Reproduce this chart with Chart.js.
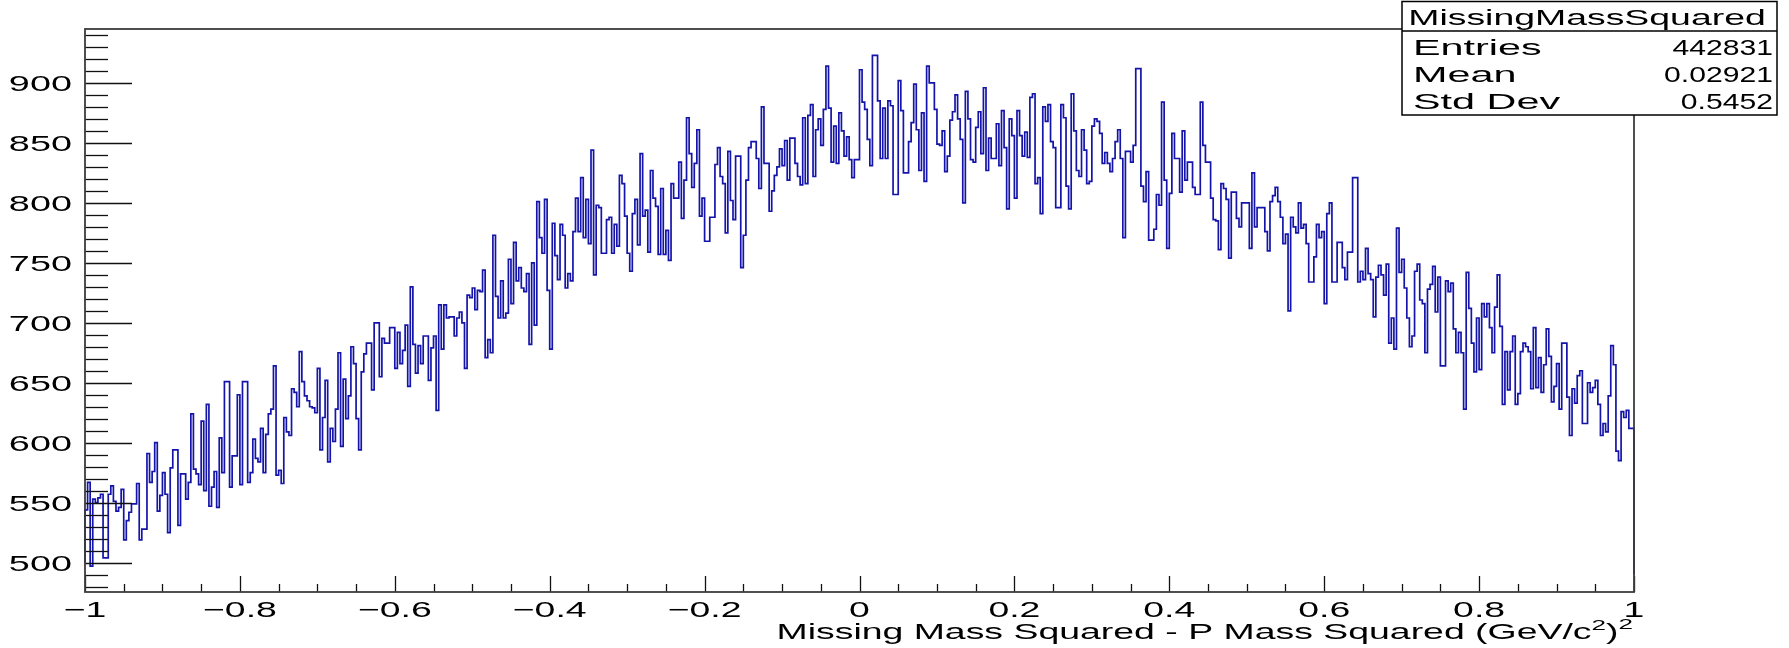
<!DOCTYPE html>
<html>
<head>
<meta charset="utf-8">
<script src="https://cdn.jsdelivr.net/npm/chart.js@4.4.1/dist/chart.umd.min.js"></script>
<style>
  html, body { margin: 0; padding: 0; background: #ffffff; }
  #wrap { width: 1789px; height: 648px; position: relative; }
</style>
</head>
<body>
<div id="wrap"><canvas id="c" width="1789" height="648"></canvas></div>
<script>
// ---- Histogram definition (600 bins from -1 to 1) ----
const xLow = -1;
const xHigh = 1;
const yMin = 475.5;
const yMax = 945;

// bin contents, one array per quarter of the x range
const countsA = [ // -1.00 .. -0.75
  522,544,567,497,553,550,554,557,504,504,
  557,564,551,543,546,561,519,535,542,549,
  549,566,519,528,528,591,567,576,600,543,
  556,575,557,525,579,594,594,531,574,574,
  553,567,624,578,574,565,618,560,632,547,
  563,576,546,604,575,651,651,563,589,589,
  640,565,651,651,567,575,603,587,584,612,
  575,607,624,628,664];
const countsB = [ // -0.75 .. -0.50
  573,577,566,621,609,606,645,642,630,676,
  651,639,635,630,629,625,662,594,621,652,
  584,612,601,628,675,597,653,620,639,680,
  666,620,594,659,674,683,683,644,700,700,
  655,687,683,683,696,696,662,692,666,677,
  698,647,730,682,658,681,666,689,689,652,
  679,689,627,715,678,715,704,705,705,689,
  704,709,700,662,723];
const countsC = [ // -0.50 .. -0.25
  721,729,711,727,726,744,671,686,675,773,
  722,704,735,704,708,753,716,767,735,746,
  729,726,741,682,750,698,801,771,758,803,
  727,678,783,756,736,782,773,729,741,735,
  776,804,776,821,771,803,766,844,740,798,
  796,758,758,786,788,758,782,764,823,816,
  789,758,743,791,803,765,841,789,794,759,
  827,804,797,757,812];
const countsD = [ // -0.25 .. 0.00
  757,777,752,816,804,804,834,787,819,871,
  841,813,833,861,789,804,768,768,788,788,
  832,846,822,816,775,843,802,786,839,839,
  746,773,819,846,851,851,837,812,880,833,
  833,793,810,823,830,845,831,852,819,854,
  854,833,822,815,871,816,873,882,822,861,
  870,848,878,914,879,834,864,833,875,860,
  839,855,836,821,836];
const countsE = [ // 0.00 .. 0.25
  836,911,884,878,853,831,923,923,885,837,
  879,837,885,881,807,807,902,877,825,825,
  851,867,899,861,827,875,818,914,900,900,
  878,849,848,860,826,839,869,876,890,870,
  853,800,893,870,836,834,863,876,841,896,
  827,854,837,837,866,831,877,846,795,870,
  856,804,877,856,839,859,838,888,891,816,
  821,791,880,868,882];
const countsF = [ // 0.25 .. 0.50
  851,846,796,796,882,871,814,795,891,860,
  827,822,861,844,816,818,864,870,868,858,
  833,842,833,826,837,851,861,837,771,843,
  843,834,848,912,912,814,801,826,769,769,
  778,807,798,884,819,762,808,858,837,837,
  809,860,819,834,834,813,807,807,884,848,
  834,834,804,786,785,761,816,812,803,754,
  809,809,787,780,800];
const countsG = [ // 0.50 .. 0.75
  800,800,762,825,780,796,796,796,776,760,
  801,806,813,801,788,766,774,710,788,780,
  775,800,779,782,766,734,734,755,782,771,
  776,716,791,800,734,734,767,767,746,736,
  759,759,821,821,734,743,736,762,741,736,
  705,738,748,740,723,749,683,704,678,779,
  742,753,729,704,680,689,743,749,719,716,
  675,728,732,747,709];
const countsH = [ // 0.75 .. 1.00
  738,664,664,735,726,733,695,675,692,675,
  628,742,712,683,659,704,661,716,705,716,
  696,675,713,740,697,632,676,644,676,689,
  632,641,676,683,680,676,645,696,646,671,
  642,665,695,672,634,647,666,628,683,683,
  638,606,645,633,656,660,616,616,650,642,
  646,652,632,606,616,609,639,681,665,593,
  585,626,621,627,612];

// where the outline's closing verticals end at the two edges
const outlineStart = 500;
const outlineEnd = 490;

// axis ticks and labels
const xTickValues = [-1, -0.8, -0.6, -0.4, -0.2, 0, 0.2, 0.4, 0.6, 0.8, 1];
const xTickLabels = ['\u22121', '\u22120.8', '\u22120.6', '\u22120.4', '\u22120.2', '0', '0.2', '0.4', '0.6', '0.8', '1'];
const yTickValues = [500, 550, 600, 650, 700, 750, 800, 850, 900];
const yTickLabels = ['500', '550', '600', '650', '700', '750', '800', '850', '900'];
const xAxisTitle = ['Missing Mass Squared - P Mass Squared (GeV/c', '2', ')', '2'];

// statistics box
const histName = 'MissingMassSquared';
const statNames = ['Entries', 'Mean', 'Std Dev'];
const statValues = ['442831', '0.02921', '0.5452'];

// ---- build the step outline ----
const counts = [...countsA, ...countsB, ...countsC, ...countsD, ...countsE, ...countsF, ...countsG, ...countsH];
const nBins = counts.length;
const binW = (xHigh - xLow) / nBins;
const outline = [{ x: xLow, y: outlineStart }];
counts.forEach((c, i) => outline.push({ x: xLow + i * binW, y: c }));
outline.push({ x: xHigh, y: counts[nBins - 1] });
outline.push({ x: xHigh, y: outlineEnd });

const FONT = '"Liberation Sans", Arial, Helvetica, sans-serif';

function sText(ctx, str, x, y, align, size, sx) {
  ctx.save();
  ctx.font = size + 'px ' + FONT;
  ctx.translate(x, y);
  ctx.scale(sx, 1);
  ctx.textAlign = align;
  ctx.textBaseline = 'alphabetic';
  ctx.fillText(str, 0, 0);
  ctx.restore();
}
function sWidth(ctx, str, size, sx) {
  ctx.save();
  ctx.font = size + 'px ' + FONT;
  const w = ctx.measureText(str).width * sx;
  ctx.restore();
  return w;
}

const rootDecor = {
  id: 'rootDecor',
  afterDatasetsDraw(chart) {
    const ctx = chart.ctx;
    const a = chart.chartArea;
    const xs = chart.scales.x, ys = chart.scales.y;
    ctx.save();
    ctx.fillStyle = '#000';

    // y ticks (minor every 10, major every 50), drawn inward from the left axis
    ctx.strokeStyle = '#111';
    ctx.lineWidth = 1.3;
    for (let v = 480; v <= 940; v += 10) {
      const py = Math.round(ys.getPixelForValue(v)) + 0.5;
      const len = (v % 50 === 0) ? 47 : 23;
      ctx.beginPath(); ctx.moveTo(a.left, py); ctx.lineTo(a.left + len, py); ctx.stroke();
    }
    // x ticks (minor every 0.05, major every 0.2), drawn upward from the bottom axis
    for (let i = -20; i <= 20; i++) {
      const px = Math.round(xs.getPixelForValue(i * 0.05)) + 0.5;
      const len = (i % 4 === 0) ? 16 : 8;
      ctx.beginPath(); ctx.moveTo(px, a.bottom); ctx.lineTo(px, a.bottom - len); ctx.stroke();
    }

    // frame
    ctx.strokeStyle = '#3c3c3c';
    ctx.lineWidth = 1.8;
    ctx.strokeRect(a.left, a.top, a.right - a.left, a.bottom - a.top);

    // tick labels
    yTickValues.forEach((v, i) => {
      sText(ctx, yTickLabels[i], 72, ys.getPixelForValue(v) + 8, 'right', 22, 1.72);
    });
    xTickValues.forEach((v, i) => {
      sText(ctx, xTickLabels[i], xs.getPixelForValue(v), 617, 'center', 22, 1.7);
    });

    // x axis title, right-aligned at the axis end, with superscripts
    const tS = 1.74, big = 21.5, small = 15;
    const w0 = sWidth(ctx, xAxisTitle[0], big, tS);
    const w1 = sWidth(ctx, xAxisTitle[1], small, tS);
    const w2 = sWidth(ctx, xAxisTitle[2], big, tS);
    const w3 = sWidth(ctx, xAxisTitle[3], small, tS);
    let tx = a.right - 1 - (w0 + w1 + w2 + w3);
    const base = 639;
    sText(ctx, xAxisTitle[0], tx, base, 'left', big, tS); tx += w0;
    sText(ctx, xAxisTitle[1], tx, base - 9, 'left', small, tS); tx += w1;
    sText(ctx, xAxisTitle[2], tx, base, 'left', big, tS); tx += w2;
    sText(ctx, xAxisTitle[3], tx, base - 10, 'left', small, tS);

    // statistics box
    const bx0 = 1402, bx1 = 1777, by0 = 1.5, by1 = 115, bSep = 31;
    ctx.fillStyle = '#fff';
    ctx.fillRect(bx0, by0, bx1 - bx0, by1 - by0);
    ctx.strokeStyle = '#000';
    ctx.lineWidth = 1.5;
    ctx.strokeRect(bx0, by0, bx1 - bx0, by1 - by0);
    ctx.beginPath(); ctx.moveTo(bx0, bSep); ctx.lineTo(bx1, bSep); ctx.stroke();
    ctx.fillStyle = '#000';
    sText(ctx, histName, 1587, 24.5, 'center', 22, 1.7);
    const rowBase = [55, 82, 109];
    statNames.forEach((n, i) => {
      sText(ctx, n, 1413, rowBase[i], 'left', 22, 1.88);
      sText(ctx, statValues[i], 1773, rowBase[i], 'right', 22, 1.37);
    });
    ctx.restore();
  }
};

new Chart(document.getElementById('c').getContext('2d'), {
  type: 'line',
  data: {
    datasets: [{
      data: outline,
      borderColor: 'rgb(20,20,170)',
      borderWidth: 1.7,
      pointRadius: 0,
      pointHoverRadius: 0,
      stepped: 'after',
      fill: false,
      tension: 0,
      clip: 4,
      borderJoinStyle: 'miter'
    }]
  },
  options: {
    responsive: false,
    animation: false,
    events: [],
    layout: { padding: { left: 85, right: 155, top: 29, bottom: 56 } },
    plugins: { legend: { display: false }, tooltip: { enabled: false }, title: { display: false } },
    scales: {
      x: { type: 'linear', min: xLow, max: xHigh, display: false },
      y: { type: 'linear', min: yMin, max: yMax, display: false }
    }
  },
  plugins: [rootDecor]
});
</script>
</body>
</html>
